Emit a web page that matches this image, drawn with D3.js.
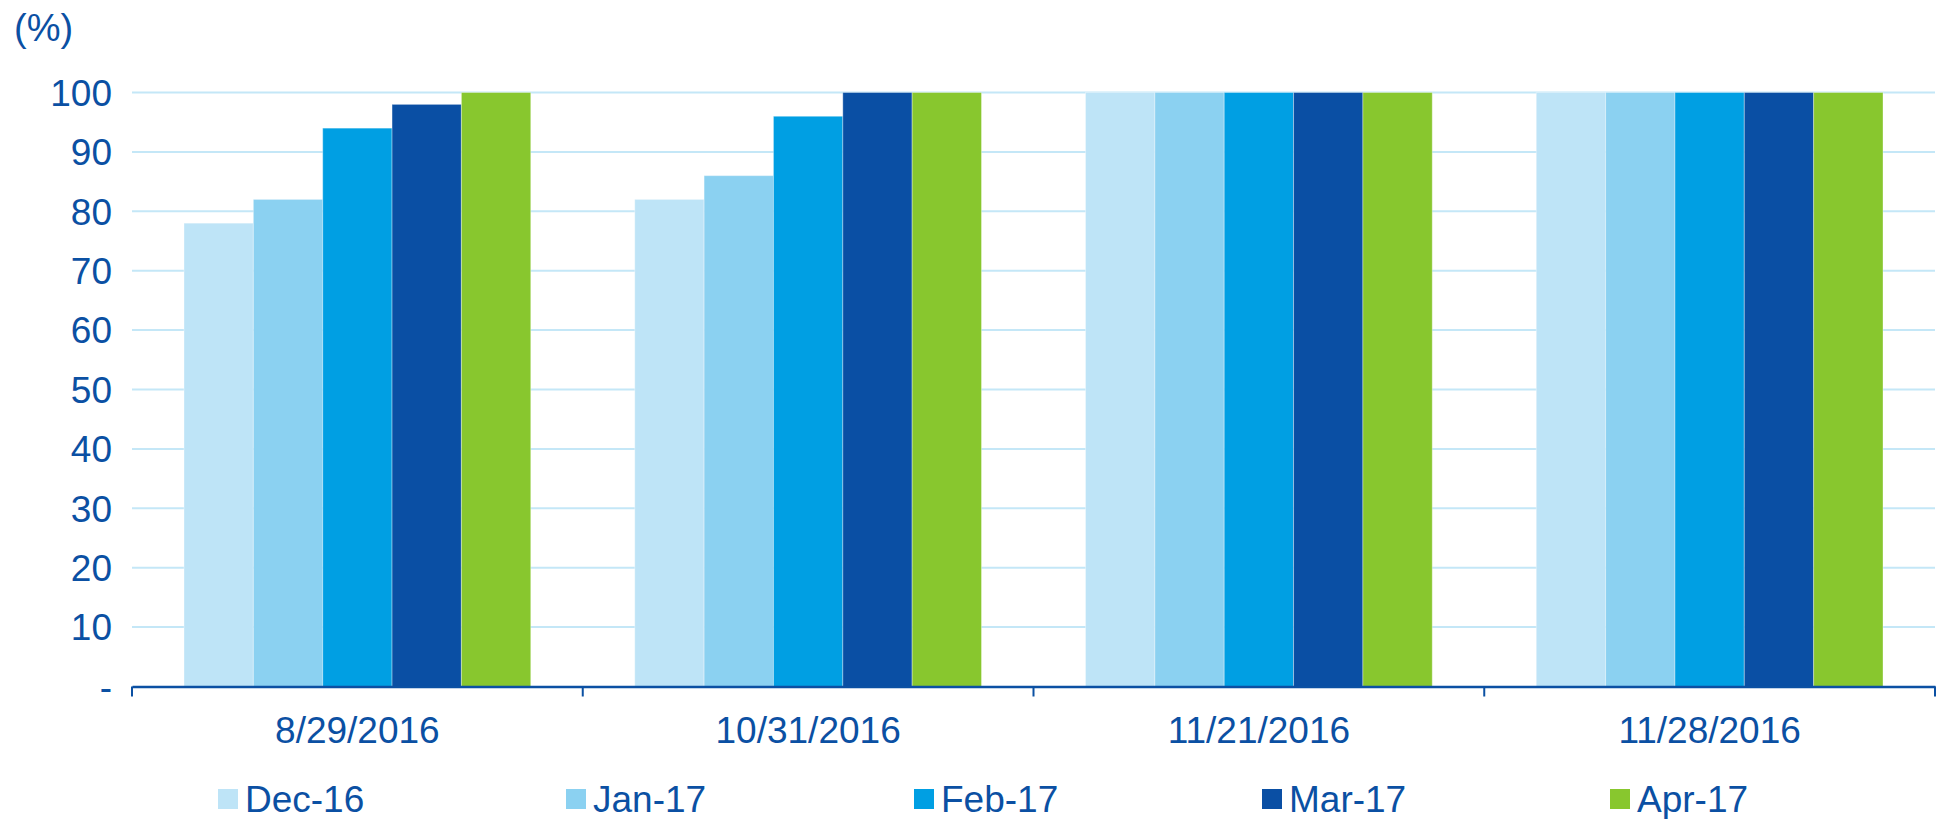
<!DOCTYPE html>
<html>
<head>
<meta charset="utf-8">
<script src="https://cdn.jsdelivr.net/npm/d3@7"></script>
<style>
  body { margin: 0; background: #fff; }
  svg text { font-family: "Liberation Sans", Arial, sans-serif; fill: #0b50a3; }
</style>
</head>
<body>
<svg id="chart" width="1939" height="819"></svg>
<script>
// data
const dates = ['8/29/2016', '10/31/2016', '11/21/2016', '11/28/2016']
const series = ['Dec-16', 'Jan-17', 'Feb-17', 'Mar-17', 'Apr-17']
const dec16 = [78, 82, 100, 100]
const jan17 = [82, 86, 100, 100]
const feb17 = [94, 96, 100, 100]
const mar17 = [98, 100, 100, 100]
const apr17 = [100, 100, 100, 100]
const yTicks = [0, 10, 20, 30, 40, 50, 60, 70, 80, 90, 100]
const colors = ['#bee4f7', '#8bd1f1', '#009fe3', '#0a4fa4', '#88c72e']

const values = [dec16, jan17, feb17, mar17, apr17]

const svg = d3.select('#chart')
const mLeft = 132, mRight = 1935, mTop = 92.5, mBottom = 686.5

const x0 = d3.scaleBand().domain(dates).range([mLeft, mRight]).padding(0)
const x1 = d3.scaleBand().domain(series).range([52, x0.bandwidth() - 52]).padding(0)
const y = d3.scaleLinear().domain([0, 100]).range([mBottom, mTop])

// gridlines
svg.append('g')
  .selectAll('line')
  .data(yTicks.filter(d => d > 0))
  .join('line')
  .attr('x1', mLeft).attr('x2', mRight)
  .attr('y1', d => y(d)).attr('y2', d => y(d))
  .attr('stroke', '#c4e7f7').attr('stroke-width', 2)

// y labels
svg.append('g')
  .selectAll('text')
  .data(yTicks)
  .join('text')
  .attr('x', 112)
  .attr('y', d => y(d))
  .attr('dy', '0.36em')
  .attr('text-anchor', 'end')
  .attr('font-size', 37)
  .text(d => d === 0 ? '-' : d)

svg.append('text')
  .attr('x', 14).attr('y', 27).attr('dy', '0.36em')
  .attr('font-size', 38)
  .text('(%)')

// bars
const groups = svg.append('g')
  .selectAll('g')
  .data(dates)
  .join('g')
  .attr('transform', d => `translate(${x0(d)},0)`)

groups.selectAll('rect')
  .data((d, i) => series.map((s, j) => ({ s, v: values[j][i], c: colors[j] })))
  .join('rect')
  .attr('x', d => x1(d.s))
  .attr('width', x1.bandwidth())
  .attr('y', d => y(d.v))
  .attr('height', d => y(0) - y(d.v))
  .attr('fill', d => d.c)
  .attr('stroke', 'rgba(255,255,255,0.35)')
  .attr('stroke-width', 1)

// x axis
const xAxis = d3.axisBottom(x0).tickSize(0).tickPadding(30)
const gx = svg.append('g')
  .attr('transform', `translate(0,${mBottom})`)
  .call(xAxis)
gx.select('.domain').attr('stroke', '#0b50a3').attr('stroke-width', 2.5)
gx.selectAll('text').attr('font-size', 37).attr('fill', '#0b50a3').attr('font-family', '"Liberation Sans", Arial, sans-serif')

const boundaries = dates.map(d => x0(d)).concat([mRight])
svg.append('g')
  .selectAll('line')
  .data(boundaries)
  .join('line')
  .attr('x1', d => d).attr('x2', d => d)
  .attr('y1', mBottom).attr('y2', mBottom + 10)
  .attr('stroke', '#0b50a3').attr('stroke-width', 2)

// legend
const legend = svg.append('g')
  .selectAll('g')
  .data(series)
  .join('g')
  .attr('transform', (d, i) => `translate(${218 + i * 348},799)`)

legend.append('rect')
  .attr('x', 0).attr('y', -10)
  .attr('width', 20).attr('height', 20)
  .attr('fill', (d, i) => colors[i])

legend.append('text')
  .attr('x', 27).attr('y', 0).attr('dy', '0.36em')
  .attr('font-size', 37)
  .text(d => d)
</script>
</body>
</html>
